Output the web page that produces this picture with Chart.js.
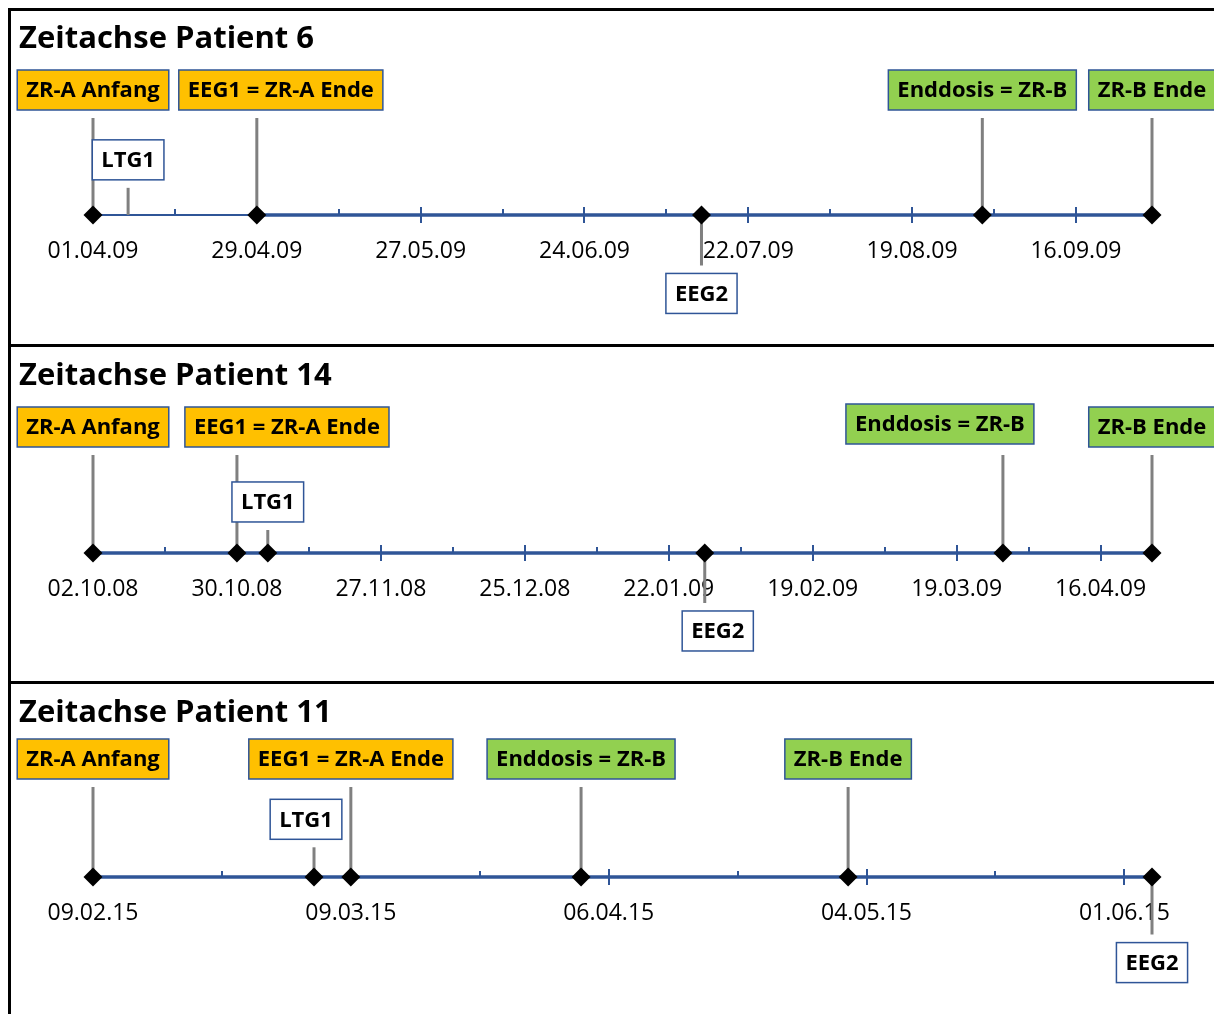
<!DOCTYPE html>
<html lang="de">
<head>
<meta charset="utf-8">
<title>Zeitachsen Patienten</title>
<script src="https://cdn.jsdelivr.net/npm/chart.js@4"></script>
<style>
  html, body { margin: 0; padding: 0; background: #fff; overflow: hidden; }
  #page { position: relative; width: 1214px; height: 1014px; overflow: hidden; }
  .rule { position: absolute; background: #000; }
  .panel { position: absolute; left: 0; width: 1214px; }
  .panel canvas { position: absolute; left: 0; top: 0; }
  .panel h2 { position: absolute; left: 19px; margin: 0; font: bold 31px/32px 'Open Sans', sans-serif; color: #000; white-space: nowrap; z-index: 2; }
</style>
</head>
<body>
<div id="page">
  <div class="rule" style="left:8px;top:8px;width:1206px;height:3px;"></div>
  <div class="rule" style="left:8px;top:344px;width:1206px;height:3px;"></div>
  <div class="rule" style="left:8px;top:681px;width:1206px;height:3px;"></div>
  <div class="rule" style="left:8px;top:8px;width:3px;height:1006px;"></div>
</div>
<script>
// Patient 6
const labels6 = ['ZR-A Anfang', 'LTG1', 'EEG1 = ZR-A Ende', 'EEG2', 'Enddosis = ZR-B', 'ZR-B Ende'];
const dates6 = ['01.04.09', '07.04.09', '29.04.09', '14.07.09', '31.08.09', '29.09.09'];
const heights6 = [10, 2.8, 10, -5.2, 10, 10];
const diamonds6 = [true, false, true, true, true, true];
const ticks6 = ['01.04.09', '29.04.09', '27.05.09', '24.06.09', '22.07.09', '19.08.09', '16.09.09'];
const lineStart6 = '29.04.09';

// Patient 14
const labels14 = ['ZR-A Anfang', 'EEG1 = ZR-A Ende', 'LTG1', 'EEG2', 'Enddosis = ZR-B', 'ZR-B Ende'];
const dates14 = ['02.10.08', '30.10.08', '05.11.08', '29.01.09', '28.03.09', '26.04.09'];
const heights14 = [10, 10, 2.35, -5.1, 10, 10];
const diamonds14 = [true, true, true, true, true, true];
const ticks14 = ['02.10.08', '30.10.08', '27.11.08', '25.12.08', '22.01.09', '19.02.09', '19.03.09', '16.04.09'];
const lineStart14 = '02.10.08';

// Patient 11
const labels11 = ['ZR-A Anfang', 'LTG1', 'EEG1 = ZR-A Ende', 'Enddosis = ZR-B', 'ZR-B Ende', 'EEG2'];
const dates11 = ['09.02.15', '05.03.15', '09.03.15', '03.04.15', '02.05.15', '04.06.15'];
const heights11 = [10, 3.3, 10, 10, 10, -6.4];
const diamonds11 = [true, true, true, true, true, true];
const ticks11 = ['09.02.15', '09.03.15', '06.04.15', '04.05.15', '01.06.15'];
const lineStart11 = '09.02.15';

const BLUE = '#2F5597';
const boxFill = {
  'ZR-A Anfang': '#FFC000',
  'EEG1 = ZR-A Ende': '#FFC000',
  'Enddosis = ZR-B': '#92D050',
  'ZR-B Ende': '#92D050',
  'LTG1': '#FFFFFF',
  'EEG2': '#FFFFFF'
};

Chart.defaults.font.family = "'Open Sans', sans-serif";

function toDay(s) {
  const [d, m, y] = s.split('.').map(Number);
  return Date.UTC(2000 + y, m - 1, d) / 86400000;
}

// draws tick marks on the timeline and the label boxes
const timelinePlugin = {
  id: 'timeline',
  beforeDatasetsDraw(chart) {
    const { ctx, scales: { x, y } } = chart;
    const p = chart.canvas.$panel;
    const axisY = y.getPixelForValue(0);
    ctx.save();
    ctx.strokeStyle = BLUE;
    ctx.lineWidth = 2;
    x.ticks.forEach(t => {
      const px = Math.round(x.getPixelForValue(t.value));
      ctx.beginPath();
      if (p.majors.has(t.value)) {
        ctx.moveTo(px, axisY - 8);
        ctx.lineTo(px, axisY + 8);
      } else {
        ctx.moveTo(px, axisY - 6);
        ctx.lineTo(px, axisY);
      }
      ctx.stroke();
    });
    ctx.restore();
  },
  afterDraw(chart) {
    const { ctx, scales: { x, y } } = chart;
    const p = chart.canvas.$panel;
    ctx.save();
    ctx.font = "bold 22px 'Open Sans', sans-serif";
    ctx.textAlign = 'center';
    ctx.textBaseline = 'middle';
    p.labels.forEach((label, i) => {
      const off = p.offsets[label] || [0, 0];
      const cx = x.getPixelForValue(p.xs[i]) + off[0];
      const end = y.getPixelForValue(p.heights[i]);
      const w = ctx.measureText(label).width + 18;
      const h = 40;
      const top = (p.heights[i] > 0 ? end - 8 - h : end + 8) + off[1];
      ctx.fillStyle = boxFill[label];
      ctx.fillRect(cx - w / 2, top, w, h);
      ctx.strokeStyle = BLUE;
      ctx.lineWidth = 1.5;
      ctx.strokeRect(cx - w / 2, top, w, h);
      ctx.fillStyle = '#000';
      ctx.fillText(label, cx, top + h / 2 + 1);
    });
    ctx.restore();
  }
};

function buildPanel(p) {
  const wrap = document.createElement('div');
  wrap.className = 'panel';
  wrap.style.top = p.top + 'px';
  wrap.style.height = p.height + 'px';
  wrap.innerHTML = `<h2 style="top:${p.titleTop}px">${p.title}</h2><canvas width="1214" height="${p.height}"></canvas>`;
  document.getElementById('page').appendChild(wrap);
  const canvas = wrap.querySelector('canvas');

  const base = toDay(p.dates[0]);
  p.xs = p.dates.map(d => toDay(d) - base);
  const maxX = Math.max(...p.xs);
  const majorVals = p.ticks.map(d => toDay(d) - base);
  const tickVals = [];
  majorVals.forEach(v => {
    tickVals.push(v);
    if (v + 14 <= maxX) tickVals.push(v + 14);
  });
  const tickText = {};
  majorVals.forEach((v, i) => { tickText[v] = p.ticks[i]; });
  p.majors = new Set(majorVals);
  canvas.$panel = p;

  const stems = p.labels.map((label, i) => ({
    label,
    data: [{ x: p.xs[i], y: 0 }, { x: p.xs[i], y: p.heights[i] }],
    showLine: true,
    borderColor: '#808080',
    borderWidth: 3,
    pointRadius: 0,
    clip: false,
    order: 1
  }));

  new Chart(canvas, {
    type: 'scatter',
    data: {
      datasets: [
        {
          label: 'Ereignisse',
          data: p.xs.map(v => ({ x: v, y: 0 })).filter((pt, i) => p.diamonds[i]),
          pointStyle: 'rectRot',
          pointRadius: 9.5,
          pointBackgroundColor: '#000',
          pointBorderWidth: 0,
          showLine: false,
          clip: false,
          order: 0
        },
        ...stems,
        {
          label: 'Zeitstrahl',
          data: [{ x: toDay(p.lineStart) - base, y: 0 }, { x: maxX, y: 0 }],
          showLine: true,
          borderColor: BLUE,
          borderWidth: 3.5,
          pointRadius: 0,
          clip: false,
          order: 2
        }
      ]
    },
    options: {
      responsive: false,
      animation: false,
      events: [],
      layout: {
        padding: {
          left: 93,
          right: 62,
          top: p.axisY - 10 * p.unit,
          bottom: p.height - (p.axisY + 8 * p.unit)
        }
      },
      plugins: { legend: { display: false }, tooltip: { enabled: false } },
      scales: {
        x: {
          type: 'linear',
          min: 0,
          max: maxX,
          position: { y: 0 },
          afterFit: s => { s.height = 0; },
          afterBuildTicks: s => { s.ticks = tickVals.map(v => ({ value: v })); },
          grid: { display: false, drawTicks: false },
          border: { display: true, color: BLUE, width: 2 },
          ticks: {
            padding: 23,
            autoSkip: false,
            maxRotation: 0,
            minRotation: 0,
            color: '#000',
            font: { size: 23 },
            callback: v => tickText[v] || ''
          }
        },
        y: { display: false, min: -8, max: 10 }
      }
    },
    plugins: [timelinePlugin]
  });
}

buildPanel({
  title: 'Zeitachse Patient 6', top: 11, height: 333, titleTop: 9, axisY: 204, unit: 9.7,
  labels: labels6, dates: dates6, heights: heights6, diamonds: diamonds6, ticks: ticks6, lineStart: lineStart6,
  offsets: { 'EEG1 = ZR-A Ende': [24, 0] }
});
buildPanel({
  title: 'Zeitachse Patient 14', top: 347, height: 334, titleTop: 10, axisY: 206, unit: 9.8,
  labels: labels14, dates: dates14, heights: heights14, diamonds: diamonds14, ticks: ticks14, lineStart: lineStart14,
  offsets: { 'EEG1 = ZR-A Ende': [50, 0], 'Enddosis = ZR-B': [-63, -3], 'EEG2': [13, 0] }
});
buildPanel({
  title: 'Zeitachse Patient 11', top: 684, height: 330, titleTop: 10, axisY: 193, unit: 9,
  labels: labels11, dates: dates11, heights: heights11, diamonds: diamonds11, ticks: ticks11, lineStart: lineStart11,
  offsets: { 'LTG1': [-8, 0] }
});
</script>
</body>
</html>
